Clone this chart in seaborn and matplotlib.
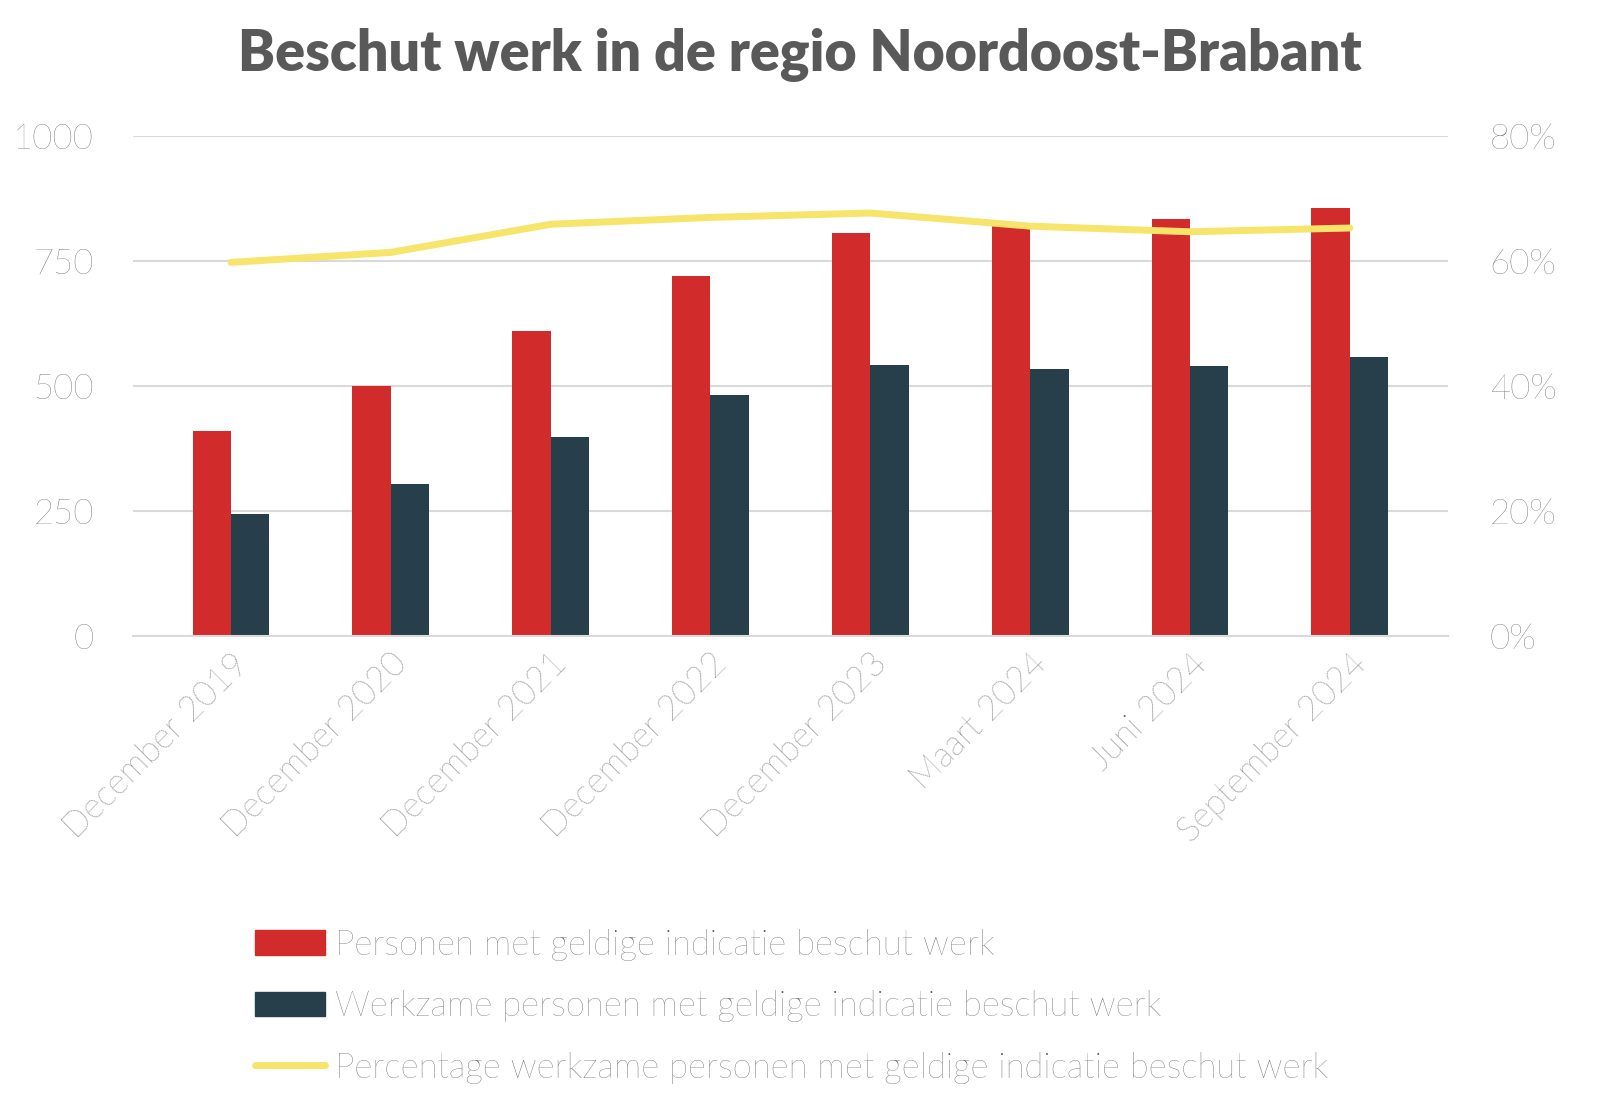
import matplotlib
matplotlib.use("Agg")
import matplotlib.pyplot as plt
import seaborn as sns
import pandas as pd
from matplotlib.ticker import FuncFormatter

categories = ["December 2019", "December 2020", "December 2021", "December 2022",
              "December 2023", "Maart 2024", "Juni 2024", "September 2024"]
geldig = [410, 500, 610, 720, 806, 822, 834, 856]
werkzaam = [244, 304, 398, 482, 542, 534, 540, 558]
percentage = [59.8, 61.4, 65.9, 67.0, 67.7, 65.6, 64.7, 65.3]

lab_red = "Personen met geldige indicatie beschut werk"
lab_dark = "Werkzame personen met geldige indicatie beschut werk"
lab_line = "Percentage werkzame personen met geldige indicatie beschut werk"

sns.set_theme(style="white")
plt.rcParams["font.family"] = ["Lato", "DejaVu Sans"]
grey = "#595959"

df = pd.DataFrame({
    "cat": categories * 2,
    "val": geldig + werkzaam,
    "serie": [lab_red] * len(categories) + [lab_dark] * len(categories),
})

fig = plt.figure(figsize=(16, 11.16), dpi=100)
ax = fig.add_axes([0.083, 0.43, 0.822, 0.448])
sns.barplot(data=df, x="cat", y="val", hue="serie", ax=ax, width=0.48,
            palette=["#d22b2b", "#263f4b"], saturation=1, legend=False,
            linewidth=0)
ax.set_ylim(0, 1000)
ax.set_yticks([0, 250, 500, 750, 1000])
ax.yaxis.grid(True, color="#d9d9d9", linewidth=1.5)
ax.set_axisbelow(True)
ax.set_xlabel("")
ax.set_ylabel("")
for s in ax.spines.values():
    s.set_visible(False)
ax.tick_params(axis="y", labelsize=25, colors=grey, length=0, pad=28)
ax.tick_params(axis="x", labelsize=25, colors=grey, length=0, pad=8)
plt.setp(ax.get_xticklabels() + ax.get_yticklabels(), fontweight="light")
plt.setp(ax.get_xticklabels(), rotation=45, ha="right", rotation_mode="anchor")

ax2 = ax.twinx()
ax2.plot(range(len(categories)), percentage, color="#f7e46a", linewidth=5,
         solid_capstyle="round")
ax2.set_ylim(0, 80)
ax2.set_yticks([0, 20, 40, 60, 80])
ax2.yaxis.set_major_formatter(FuncFormatter(lambda v, p: f"{v:.0f}%"))
ax2.tick_params(axis="y", labelsize=25, colors=grey, length=0, pad=30)
plt.setp(ax2.get_yticklabels(), fontweight="light")
for s in ax2.spines.values():
    s.set_visible(False)
ax.spines["bottom"].set_visible(True)
ax.spines["bottom"].set_color("#d9d9d9")
ax.spines["bottom"].set_linewidth(1.5)

fig.suptitle("Beschut werk in de regio Noordoost-Brabant", fontsize=40,
             fontweight="heavy", color=grey, y=0.975)

handles = [
    plt.Rectangle((0, 0), 1, 1, color="#d22b2b"),
    plt.Rectangle((0, 0), 1, 1, color="#263f4b"),
    plt.Line2D([0], [0], color="#f7e46a", linewidth=5),
]
leg = fig.legend(handles, [lab_red, lab_dark, lab_line], loc="upper left",
                 bbox_to_anchor=(0.14, 0.196), frameon=False, fontsize=25,
                 labelcolor=grey, handlelength=2.0, handleheight=0.7,
                 labelspacing=0.85, handletextpad=0.3)
plt.setp(leg.get_texts(), fontweight="light")

fig.savefig("out.png", dpi=100)
